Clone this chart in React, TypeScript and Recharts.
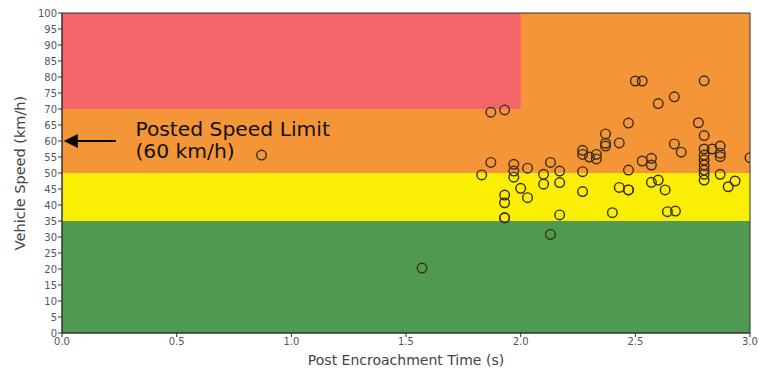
import React from "react";
import {
  ScatterChart,
  Scatter,
  XAxis,
  YAxis,
  ReferenceArea,
  ReferenceLine,
  ReferenceDot,
} from "recharts";

// Post Encroachment Time (s)
const petValues = [
  0.87, 1.57, 1.83, 1.87, 1.87, 1.93, 1.93, 1.93, 1.93, 1.93,
  1.97, 1.97, 1.97, 2.0, 2.03, 2.03, 2.1, 2.1, 2.13, 2.13,
  2.17, 2.17, 2.17, 2.27, 2.27, 2.27, 2.27, 2.3, 2.33, 2.33,
  2.37, 2.37, 2.37, 2.4, 2.43, 2.43, 2.47, 2.47, 2.47, 2.47,
  2.5, 2.53, 2.53, 2.57, 2.57, 2.57, 2.6, 2.6, 2.63, 2.64,
  2.67, 2.67, 2.675, 2.7, 2.775, 2.8, 2.8, 2.8, 2.8, 2.8,
  2.8, 2.8, 2.8, 2.8, 2.835, 2.87, 2.87, 2.87, 2.87, 2.905,
  2.935, 3.0,
];

// Vehicle Speed (km/h)
const speedValues = [
  55.6, 20.3, 49.4, 69.0, 53.3, 69.7, 43.1, 40.7, 36.0, 36.0,
  52.7, 50.6, 48.7, 45.2, 51.5, 42.3, 49.6, 46.5, 53.3, 30.8,
  50.6, 47.0, 36.9, 57.1, 55.8, 50.4, 44.2, 55.0, 55.8, 54.4,
  62.2, 59.3, 58.4, 37.6, 59.4, 45.5, 65.6, 50.9, 44.7, 44.7,
  78.75, 78.75, 53.75, 54.6, 52.5, 47.1, 71.7, 47.8, 44.7, 37.9,
  73.8, 59.1, 38.1, 56.5, 65.7, 78.8, 61.7, 57.5, 55.6, 54.1,
  52.5, 50.9, 49.6, 47.8, 57.5, 58.4, 56.2, 55.1, 49.6, 45.7,
  47.5, 54.8,
];

const xTicks = [0, 0.5, 1.0, 1.5, 2.0, 2.5, 3.0];
const yTicks = [0, 5, 10, 15, 20, 25, 30, 35, 40, 45, 50, 55, 60, 65, 70, 75, 80, 85, 90, 95, 100];

const postedLimit = 60;

const data = petValues.map((pet, i) => ({ pet, speed: speedValues[i] }));

const tickStyle = { fontFamily: "DejaVu Sans", fontSize: 10, fill: "#555" };

const Ring = (props: any) => {
  const { cx, cy } = props;
  if (cx == null || cy == null) return null;
  return (
    <circle
      cx={cx}
      cy={cy}
      r={4.8}
      fill="none"
      stroke="#3a2e14"
      strokeWidth={1.4}
    />
  );
};

const ArrowHead = (props: any) => {
  const { cx, cy } = props;
  if (cx == null || cy == null) return null;
  return (
    <polygon
      points={`${cx},${cy} ${cx + 14},${cy - 7} ${cx + 14},${cy + 7}`}
      fill="#000"
    />
  );
};

const AnnotationText = (props: any) => {
  const { cx, cy } = props;
  if (cx == null || cy == null) return null;
  return (
    <text
      x={cx}
      y={cy}
      fontFamily="'DejaVu Sans', sans-serif"
      fontSize={20.3}
      fill="#111"
    >
      <tspan x={cx} y={cy - 5}>Posted Speed Limit</tspan>
      <tspan x={cx} y={cy + 17}>(60 km/h)</tspan>
    </text>
  );
};

export default function App() {
  return (
    <div style={{ position: "absolute", left: 0, top: 0, background: "#fff" }}>
      <ScatterChart
        width={759}
        height={368}
        margin={{ top: 13, right: 9, bottom: 0, left: 0 }}
      >
        <XAxis
          type="number"
          dataKey="pet"
          domain={[0, 3]}
          ticks={xTicks}
          tickFormatter={(v: number) => v.toFixed(1)}
          tick={tickStyle}
          tickSize={4}
          tickMargin={1}
          stroke="#333"
          height={35}
          allowDataOverflow
          label={{
            value: "Post Encroachment Time (s)",
            position: "insideBottom",
            offset: 3,
            style: { fontFamily: "DejaVu Sans", fontSize: 14, fill: "#444" },
          }}
        />
        <YAxis
          type="number"
          dataKey="speed"
          domain={[0, 100]}
          ticks={yTicks}
          tick={tickStyle}
          tickSize={4}
          tickMargin={1}
          stroke="#333"
          width={62}
          interval={0}
          allowDataOverflow
          label={{
            value: "Vehicle Speed (km/h)",
            angle: -90,
            position: "insideLeft",
            offset: 20,
            style: {
              fontFamily: "DejaVu Sans",
              fontSize: 14.5,
              fill: "#444",
              textAnchor: "middle",
            },
          }}
        />
        <ReferenceArea x1={0} x2={3} y1={0} y2={35} fill="#4f9a50" fillOpacity={1} stroke="none" />
        <ReferenceArea x1={0} x2={3} y1={35} y2={50} fill="#faee05" fillOpacity={1} stroke="none" />
        <ReferenceArea x1={0} x2={3} y1={50} y2={100} fill="#f49537" fillOpacity={1} stroke="none" />
        <ReferenceArea x1={0} x2={2} y1={70} y2={100} fill="#f36568" fillOpacity={1} stroke="none" />
        <ReferenceArea x1={0} x2={3} y1={0} y2={100} fill="none" stroke="#333" strokeWidth={1} ifOverflow="visible" />
        <ReferenceLine
          segment={[
            { x: 0.05, y: postedLimit },
            { x: 0.235, y: postedLimit },
          ]}
          stroke="#000"
          strokeWidth={2}
        />
        <ReferenceDot x={0.008} y={postedLimit} shape={ArrowHead} ifOverflow="visible" />
        <ReferenceDot x={0.32} y={postedLimit} shape={AnnotationText} ifOverflow="visible" />
        <Scatter data={data} shape={Ring} isAnimationActive={false} />
      </ScatterChart>
    </div>
  );
}
